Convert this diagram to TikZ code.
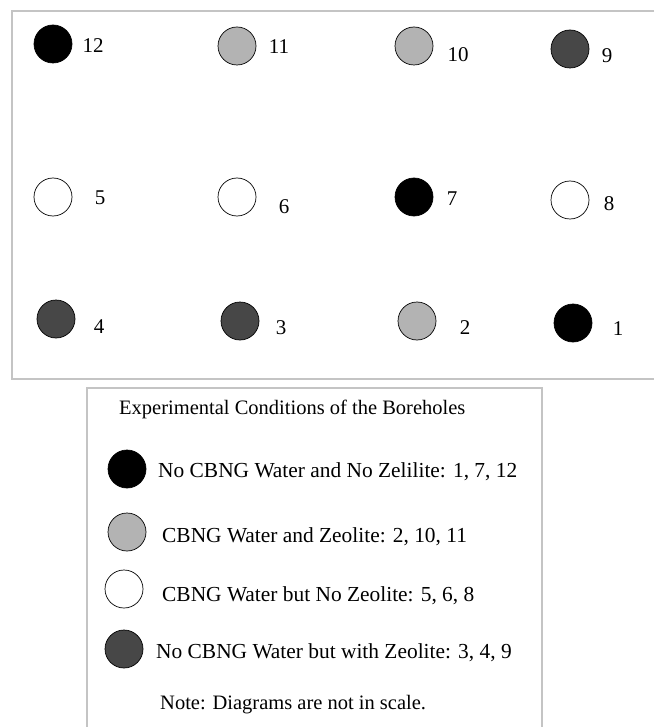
\documentclass[tikz,border=0pt]{standalone}
\usepackage{fontspec}
\setmainfont{Liberation Serif}
\definecolor{holelight}{HTML}{B3B3B3}
\definecolor{holedark}{HTML}{474747}
\definecolor{framegray}{HTML}{C4C4C4}
\begin{document}
\begin{tikzpicture}[x=1pt,y=-1pt,
  hole/.style={circle,draw=black,line width=0.7pt,minimum size=38pt,inner sep=0pt},
  blackhole/.style={hole,fill=black},
  lighthole/.style={hole,fill=holelight},
  whitehole/.style={hole,fill=white},
  darkhole/.style={hole,fill=holedark},
  num/.style={inner sep=0pt,font=\fontsize{21}{24}\selectfont},
  legtext/.style={anchor=west,inner sep=0pt,font=\fontsize{20.5}{24}\selectfont},
  legitem/.style={legtext,font=\fontsize{21.4}{24}\selectfont},
  frame/.style={draw=framegray,line width=1.3pt}]
\useasboundingbox (0,0) rectangle (654,727);
% frames
\draw[frame] (654,11) -- (12,11) -- (12,379) -- (654,379);
\draw[frame] (87,727) -- (87,388) -- (542,388) -- (542,727);
% top row
\node[blackhole] (c12) at (53,44) {};
\node[num] (l12) at (93,46) {12};
\node[lighthole] (c11) at (237,46) {};
\node[num] (l11) at (279,47) {11};
\node[lighthole] (c10) at (414,46) {};
\node[num] (l10) at (458,55) {10};
\node[darkhole] (c9) at (570,49) {};
\node[num] (l9) at (607,56) {9};
% middle row
\node[whitehole] (c5) at (53,197) {};
\node[num] (l5) at (100,198) {5};
\node[whitehole] (c6) at (237,197) {};
\node[num] (l6) at (284,207) {6};
\node[blackhole] (c7) at (414,197) {};
\node[num] (l7) at (452,199) {7};
\node[whitehole] (c8) at (570,200) {};
\node[num] (l8) at (609,204) {8};
% bottom row
\node[darkhole] (c4) at (56,319) {};
\node[num] (l4) at (99,327) {4};
\node[darkhole] (c3) at (240,321) {};
\node[num] (l3) at (281,328) {3};
\node[lighthole] (c2) at (417,321) {};
\node[num] (l2) at (465,328) {2};
\node[blackhole] (c1) at (573,323) {};
\node[num] (l1) at (618,329) {1};
% legend
\node[legtext] (title) at (119,409) {Experimental Conditions of the Boreholes};
\node[blackhole] (k1) at (127,469) {};
\node[legitem] (t1) at (158,472) {No CBNG Water and No Zelilite: 1, 7, 12};
\node[lighthole] (k2) at (127,532) {};
\node[legitem] (t2) at (162,537) {CBNG Water and Zeolite: 2, 10, 11};
\node[whitehole] (k3) at (124,589) {};
\node[legitem] (t3) at (162,596) {CBNG Water but No Zeolite: 5, 6, 8};
\node[darkhole] (k4) at (124,649) {};
\node[legitem] (t4) at (156,653) {No CBNG Water but with Zeolite: 3, 4, 9};
\node[legtext] (note) at (160,705) {Note: Diagrams are not in scale.};
\end{tikzpicture}
\end{document}
